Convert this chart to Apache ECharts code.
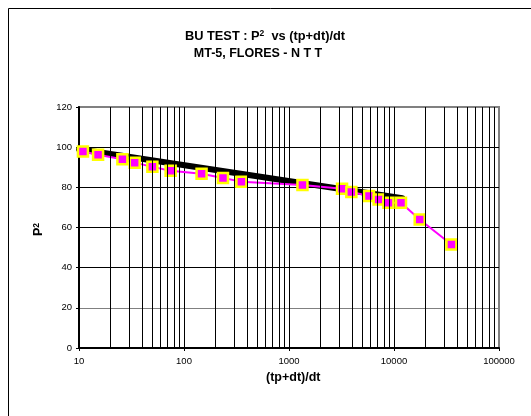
<!DOCTYPE html>
<html>
<head>
<meta charset="utf-8">
<script src="https://cdn.jsdelivr.net/npm/echarts@6/dist/echarts.min.js"></script>
<style>
html,body{margin:0;padding:0;background:#fff;}
#chart{width:531px;height:416px;}
</style>
</head>
<body>
<div id="chart"></div>
<script>
// Measured data: (tp+dt)/dt vs P^2
var xValues = [10.9, 15.2, 25.9, 33.9, 50, 74.6, 147, 235, 352, 1343, 3200, 3925, 5780, 7140, 8850, 11660, 17570, 35240];
var yValues = [97.8, 96.2, 94.0, 92.3, 90.2, 88.2, 86.8, 84.7, 82.8, 81.2, 79.3, 77.7, 75.7, 74.0, 72.3, 72.3, 64.0, 51.5];
// Straight-line fit (black)
var fitX = [10, 12000];
var fitY = [99, 74.6];
// Axis ticks
var yTicks = [0, 20, 40, 60, 80, 100, 120];
var xDecades = [10, 100, 1000, 10000, 100000];

// minor vertical gridlines at 2..9 x 10^n
var minorX = [];
for (var d = 0; d < xDecades.length - 1; d++) {
  for (var m = 2; m <= 9; m++) minorX.push(xDecades[d] * m);
}

var font = '"Liberation Sans", Arial, sans-serif';
var chart = echarts.init(document.getElementById('chart'), null, {renderer: 'canvas'});

chart.setOption({
  animation: false,
  backgroundColor: '#fff',
  title: [{
    text: '{b|BU TEST : P}{s|2}{b|  vs (tp+dt)/dt}',
    left: 265, top: 29, textAlign: 'center', padding: 0,
    textStyle: {
      rich: {
        b: {fontFamily: font, fontWeight: 'bold', fontSize: 12.8, color: '#000', lineHeight: 14},
        s: {fontFamily: font, fontWeight: 'bold', fontSize: 8.5, color: '#000', lineHeight: 8, verticalAlign: 'top'}
      }
    }
  }, {
    text: 'MT-5, FLORES - N T T',
    left: 258, top: 47, textAlign: 'center', padding: 0,
    textStyle: {fontFamily: font, fontWeight: 'bold', fontSize: 12.5, lineHeight: 14, color: '#000'}
  }],
  grid: {left: 79, right: 32, top: 107, bottom: 68, show: true, borderColor: '#808080', borderWidth: 2, backgroundColor: 'transparent'},
  xAxis: {
    type: 'log', logBase: 10, min: 10, max: 100000,
    axisLine: {show: true, onZero: false, lineStyle: {color: '#000', width: 2}},
    axisTick: {show: true, length: 3, lineStyle: {color: '#000'}},
    axisLabel: {fontFamily: font, fontSize: 9.5, color: '#000', margin: 8, formatter: function (v) { return String(Math.round(v)); }},
    splitLine: {show: true, lineStyle: {color: ['#000', '#000', '#000', '#000', '#808080'], width: 1}}
  },
  yAxis: {
    type: 'value', min: 0, max: 120, interval: 20,
    axisLine: {show: true, lineStyle: {color: '#000', width: 2}},
    axisTick: {show: true, length: 3, lineStyle: {color: '#000'}},
    axisLabel: {fontFamily: font, fontSize: 9.5, color: '#000', margin: 7},
    splitLine: {show: true, lineStyle: {color: ['#000', '#808080', '#000', '#000', '#000', '#000', '#808080'], width: 1}}
  },
  graphic: [
    {type: 'rect', shape: {x: 8.5, y: 8.5, width: 700, height: 700}, style: {fill: 'none', stroke: '#000', lineWidth: 1}, silent: true, z: -10},
    {type: 'text', left: 266, top: 371, style: {text: '(tp+dt)/dt', font: 'bold 12.5px ' + font, fill: '#000'}},
    {type: 'text', x: 32, y: 236, rotation: Math.PI / 2, style: {text: '{b|P}{s|2}', rich: {
      b: {fontFamily: font, fontWeight: 'bold', fontSize: 12.5, fill: '#000', lineHeight: 14},
      s: {fontFamily: font, fontWeight: 'bold', fontSize: 8.5, fill: '#000', lineHeight: 8, verticalAlign: 'top'}
    }}}
  ],
  series: [{
    type: 'line',
    data: [],
    silent: true,
    markLine: {
      silent: true, symbol: 'none', label: {show: false},
      lineStyle: {color: '#000', width: 1, type: 'solid'},
      data: minorX.map(function (v) { return {xAxis: v}; })
    },
    z: 1
  }, {
    type: 'line',
    data: fitX.map(function (x, i) { return [x, fitY[i]]; }),
    showSymbol: false,
    lineStyle: {color: '#000', width: 6, cap: 'round'},
    z: 3
  }, {
    type: 'line',
    data: xValues.map(function (x, i) { return [x, yValues[i]]; }),
    symbol: 'rect', symbolSize: 10,
    lineStyle: {color: '#ff00ff', width: 2},
    itemStyle: {color: '#ff00ff', borderColor: '#ffff00', borderWidth: 2.5},
    z: 4
  }]
});
</script>
</body>
</html>
